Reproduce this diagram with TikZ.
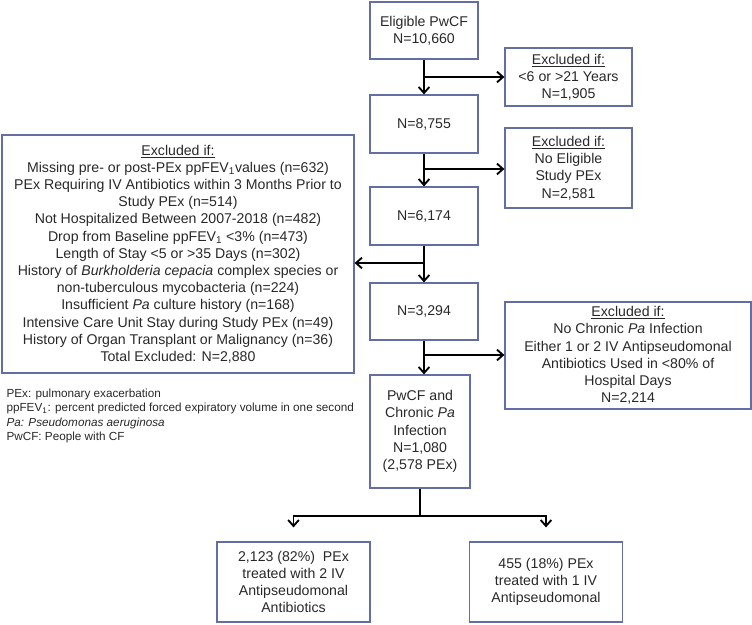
\documentclass[tikz,border=0pt]{standalone}
\usepackage{fontspec}
\setmainfont{Liberation Sans}
\usetikzlibrary{arrows.meta}

\definecolor{boxblue}{RGB}{98,110,165}
\definecolor{txtgray}{RGB}{40,40,40}

\tikzset{every picture/.style={line width=0.75pt}}
\tikzset{
  flowbox/.style={draw=boxblue, line width=0.9pt, text=txtgray, align=center, inner sep=0pt, font=\fontsize{10.6}{12.9}\selectfont},
  flowarrow/.style={-{Straight Barb[length=4.5pt,width=8pt]}, line width=1.4pt},
  flowline/.style={line width=1.4pt},
  legendtext/.style={text=txtgray, align=left, inner sep=0pt, font=\fontsize{8.8}{10.7}\selectfont},
}

\begin{document}
\begin{tikzpicture}[x=0.75pt,y=0.75pt,yscale=-1,xscale=1]
	\useasboundingbox (0,0) rectangle (752,624);

	% Main column
	\node[flowbox, minimum width=81pt, minimum height=42.75pt] (elig) at (424,30.5) {Eligible PwCF\\N=10,660};
	\node[flowbox, minimum width=81pt, minimum height=43.5pt] (n8755) at (424,124) {N=8,755};
	\node[flowbox, minimum width=81pt, minimum height=43.5pt] (n6174) at (424,216) {N=6,174};
	\node[flowbox, minimum width=81pt, minimum height=42.75pt] (n3294) at (424,311.5) {N=3,294};
	\node[flowbox, minimum width=75pt, minimum height=84.75pt] (pwcf) at (420,431.5) {PwCF and\\Chronic \textit{Pa}\\Infection\\N=1,080\\(2,578 PEx)};

	% Excluded boxes
	\node[flowbox, minimum width=95.25pt, minimum height=43.5pt] (excla) at (568.5,77) {\underline{Excluded if:}\\<6 or >21 Years\\N=1,905};
	\node[flowbox, minimum width=95.25pt, minimum height=60pt] (exclb) at (568.5,168) {\underline{Excluded if:}\\No Eligible\\Study PEx\\N=2,581};
	\node[flowbox, minimum width=264pt, minimum height=178.5pt] (exclc) at (178,254) {\underline{Excluded if:}\\
		Missing pre- or post-PEx ppFEV\textsubscript{1}values (n=632)\\
		PEx Requiring IV Antibiotics within 3 Months Prior to\\
		Study PEx (n=514)\\
		Not Hospitalized Between 2007-2018 (n=482)\\
		Drop from Baseline ppFEV\textsubscript{1} <3\% (n=473)\\
		Length of Stay <5 or >35 Days (n=302)\\
		History of \textit{Burkholderia cepacia} complex species or\\
		non-tuberculous mycobacteria (n=224)\\
		Insufficient \textit{Pa} culture history (n=168)\\
		Intensive Care Unit Stay during Study PEx (n=49)\\
		History of Organ Transplant or Malignancy (n=36)\\
		Total Excluded: N=2,880};
	\node[flowbox, minimum width=184.5pt, minimum height=80.25pt] (excld) at (628,355.5) {\underline{Excluded if:}\\No Chronic \textit{Pa} Infection\\Either 1 or 2 IV Antipseudomonal\\Antibiotics Used in <80\% of\\Hospital Days\\N=2,214};

	% Treatment groups
	\node[flowbox, minimum width=114.75pt, minimum height=60pt] (twoiv) at (293.5,582) {2,123 (82\%)~~PEx\\treated with 2 IV\\Antipseudomonal\\Antibiotics};
	\node[flowbox, minimum width=114.75pt, minimum height=60pt] (oneiv) at (546,582) {455 (18\%) PEx\\treated with 1 IV\\Antipseudomonal};

	% Abbreviations
	\node[legendtext, anchor=west] (abbr) at (6,416) {PEx: pulmonary exacerbation\\
		ppFEV\textsubscript{1}: percent predicted forced expiratory volume in one second\\
		\textit{Pa: Pseudomonas aeruginosa}\\
		PwCF: People with CF};

	% Branch points
	\coordinate (ba) at (424,77);
	\coordinate (bb) at (424,169);
	\coordinate (bc) at (424,263);
	\coordinate (bd) at (424,355);
	\coordinate (be) at (420,516);

	% Connectors
	\draw[flowarrow] (elig.south) -- (n8755.north);
	\draw[flowarrow] (ba) -- (excla.west);
	\draw[flowarrow] (n8755.south) -- (n6174.north);
	\draw[flowarrow] (bb) -- (bb -| exclb.west);
	\draw[flowarrow] (n6174.south) -- (n3294.north);
	\draw[flowarrow] (bc) -- (bc -| exclc.east);
	\draw[flowarrow] (n3294.south) -- (n3294.south |- pwcf.north);
	\draw[flowarrow] (bd) -- (bd -| excld.west);
	\draw[flowline] (pwcf.south) -- (be);
	\draw[flowarrow, shorten >=10.5pt] (be) -| (twoiv.north);
	\draw[flowarrow, shorten >=10.5pt] (be) -| (oneiv.north);

\end{tikzpicture}
\end{document}
